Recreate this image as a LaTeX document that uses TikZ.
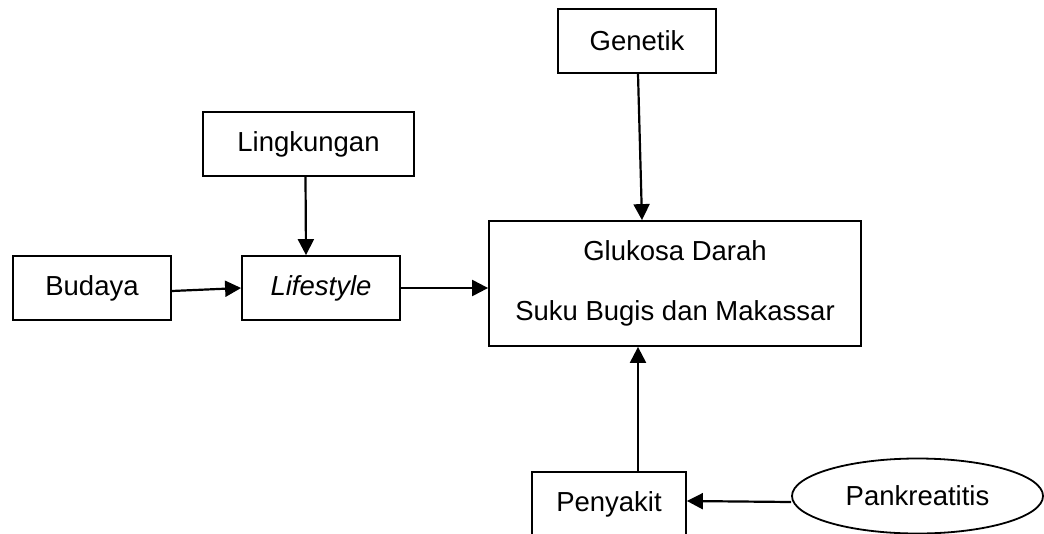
\documentclass[tikz,border=0pt]{standalone}
\usepackage{fontspec}
\setmainfont{Liberation Sans}
\usetikzlibrary{arrows.meta,shapes.geometric,calc}
\begin{document}
\begin{tikzpicture}[x=1pt,y=-1pt,
  box/.style={draw,line width=1.8pt,rectangle,inner sep=0pt,font=\fontsize{27.5}{33}\selectfont},
  oval/.style={draw,line width=1.8pt,ellipse,inner sep=0pt,font=\fontsize{27.5}{33}\selectfont},
  conn/.style={line width=2.2pt,-{Triangle[length=16pt,width=16pt]}}]
\useasboundingbox (0,0) rectangle (1044,533);
\clip (0,0) rectangle (1044,533);
\fill[white] (0,0) rectangle (1044,533);
\node[box,minimum width=158pt,minimum height=64pt] (gen) at (637,41) {Genetik};
\node[box,minimum width=211pt,minimum height=64pt] (ling) at (308.5,144) {Lingkungan};
\node[box,minimum width=158pt,minimum height=64pt] (bud) at (92,288) {Budaya};
\node[box,minimum width=158pt,minimum height=64pt] (life) at (321,288) {\itshape Lifestyle};
\node[box,minimum width=372pt,minimum height=125pt,align=center] (glu) at (675,283.5) {Glukosa Darah\\[27pt]Suku Bugis dan Makassar};
\node[box,minimum width=154pt,minimum height=64pt] (pen) at (609,504) {Penyakit};
\node[oval,minimum width=251pt,minimum height=75pt] (pank) at (917.5,496) {Pankreatitis};
\coordinate (g1) at ($(gen.south)+(1,0)$);
\coordinate (g2) at (642,221);
\coordinate (p1) at (638,472);
\coordinate (p2) at (638,346);
\draw[conn] (g1) -- (g2 |- glu.north);
\draw[conn] ($(ling.south)+(-3,0)$) -- ($(life.north)+(-15,0)$);
\draw[conn] ($(bud.east)+(0,3)$) -- (life.west);
\draw[conn] (life.east) -- (life.east -| glu.west);
\draw[conn] (p1 |- pen.north) -- (p2 |- glu.south);
\draw[conn] ($(pank.west)+(0,6)$) -- ($(pen.east)+(0,-3)$);
\end{tikzpicture}
\end{document}
